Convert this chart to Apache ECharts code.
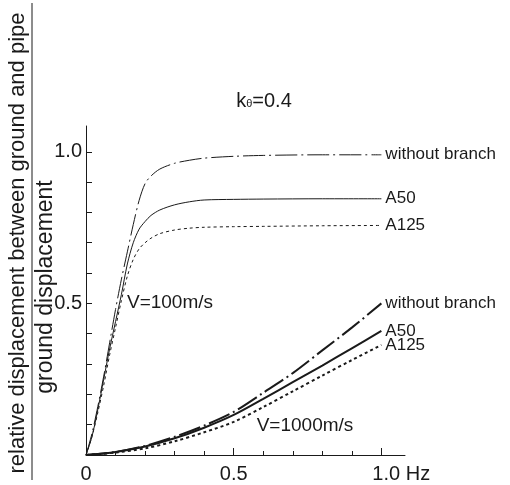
<!DOCTYPE html>
<html>
<head>
<meta charset="utf-8">
<script src="https://cdn.jsdelivr.net/npm/echarts@6/dist/echarts.min.js"></script>
<style>
  html, body { margin: 0; padding: 0; background: #fff; }
  #chart { width: 510px; height: 485px; }
</style>
</head>
<body>
<div id="chart"></div>
<script>
// frequency (Hz) for the V=100 m/s curves
var freqLow = [0, 0.02, 0.04, 0.06, 0.08, 0.10, 0.12, 0.14, 0.16, 0.18, 0.20, 0.22, 0.25, 0.30, 0.35, 0.40, 0.50, 0.60, 0.80, 1.00]
var v100NoBranch = [0, 0.07, 0.16, 0.26, 0.37, 0.48, 0.58, 0.67, 0.76, 0.84, 0.895, 0.92, 0.943, 0.962, 0.972, 0.979, 0.985, 0.988, 0.99, 0.99]
var v100A50 = [0, 0.06, 0.15, 0.25, 0.35, 0.44, 0.53, 0.63, 0.70, 0.745, 0.77, 0.79, 0.808, 0.825, 0.835, 0.841, 0.843, 0.844, 0.845, 0.845]
var v100A125 = [0, 0.06, 0.14, 0.23, 0.33, 0.42, 0.51, 0.59, 0.645, 0.68, 0.70, 0.715, 0.73, 0.742, 0.748, 0.751, 0.753, 0.754, 0.756, 0.757]

// frequency (Hz) for the V=1000 m/s curves
var freqHigh = [0, 0.1, 0.2, 0.3, 0.4, 0.5, 0.6, 0.7, 0.8, 0.9, 1.0]
var v1000NoBranch = [0, 0.01, 0.03, 0.06, 0.097, 0.142, 0.205, 0.27, 0.345, 0.42, 0.5]
var v1000A50 = [0, 0.01, 0.028, 0.055, 0.09, 0.132, 0.185, 0.24, 0.295, 0.352, 0.409]
var v1000A125 = [0, 0.008, 0.022, 0.045, 0.075, 0.109, 0.158, 0.21, 0.262, 0.313, 0.363]

var xMinorTicks = [0.1, 0.2, 0.3, 0.4, 0.6, 0.7, 0.8, 0.9]
var xMajorTicks = [0.5, 1.0]
var xLabels = [0, 0.5]
var yTicks = [0.1, 0.2, 0.3, 0.4, 0.5, 0.6, 0.7, 0.8, 0.9, 1.0]
var yLabels = [0.5, 1.0]

var ink = '#1a1a1a'
var font = 'Liberation Sans'

function pairs(xs, ys) {
  return xs.map(function (x, i) { return [x, ys[i]] })
}

function curve(name, xs, ys, type, width) {
  return {
    type: 'line',
    name: name,
    data: pairs(xs, ys),
    smooth: 0.3,
    symbol: 'none',
    silent: true,
    lineStyle: { color: ink, width: width, type: type },
    endLabel: {
      show: true,
      formatter: name,
      color: ink,
      fontFamily: font,
      fontSize: 17,
      distance: 4
    }
  }
}

var dashDot = [22, 4, 2, 4]
var dotted = [3, 3]

var chart = echarts.init(document.getElementById('chart'))
chart.setOption({
  animation: false,
  backgroundColor: '#fff',
  textStyle: { fontFamily: font },
  title: {
    text: 'k{s|θ}=0.4',
    left: 259,
    top: 86,
    textAlign: 'center',
    textStyle: {
      fontFamily: font,
      fontSize: 20,
      fontWeight: 'normal',
      color: ink,
      rich: { s: { fontSize: 11, color: ink, padding: [6, 0, 0, 0] } }
    }
  },
  grid: { left: 86, right: 105, top: 126, bottom: 30 },
  xAxis: [
    {
      type: 'value', min: 0, max: 1.08,
      splitLine: { show: false },
      axisLine: { lineStyle: { color: ink, width: 1 } },
      axisTick: { inside: true, length: 4, customValues: xMinorTicks, lineStyle: { color: ink } },
      axisLabel: {
        customValues: xLabels, color: ink, fontSize: 20, margin: 9,
        formatter: function (v) { return v === 0 ? '0' : v.toFixed(1) }
      }
    },
    {
      type: 'value', min: 0, max: 1.08, position: 'bottom',
      splitLine: { show: false },
      axisLine: { show: false },
      axisTick: { inside: true, length: 7, customValues: xMajorTicks, lineStyle: { color: ink } },
      axisLabel: {
        customValues: [1.0], color: ink, fontSize: 20, margin: 9, align: 'left',
        padding: [0, 0, 0, -9],
        formatter: function (v) { return '1.0 Hz' }
      }
    }
  ],
  yAxis: {
    type: 'value', min: 0, max: 1.085,
    splitLine: { show: false },
    axisLine: { show: true, lineStyle: { color: ink, width: 1 } },
    axisTick: { show: true, inside: true, length: 6, customValues: yTicks, lineStyle: { color: ink } },
    axisLabel: {
      customValues: yLabels, color: ink, fontSize: 20, margin: 4,
      formatter: function (v) { return v.toFixed(1) }
    }
  },
  series: [
    curve('without branch', freqLow, v100NoBranch, dashDot, 1),
    curve('A50', freqLow, v100A50, 'solid', 1),
    curve('A125', freqLow, v100A125, dotted, 1),
    curve('without branch', freqHigh, v1000NoBranch, dashDot, 2),
    curve('A50', freqHigh, v1000A50, 'solid', 2),
    curve('A125', freqHigh, v1000A125, dotted, 2)
  ],
  graphic: [
    {
      type: 'text', x: 18, y: 243, rotation: Math.PI / 2,
      style: {
        text: 'relative displacement between ground and pipe',
        font: '22px ' + font, fill: ink, align: 'center', verticalAlign: 'middle'
      }
    },
    {
      type: 'line', shape: { x1: 32, y1: 3, x2: 32, y2: 480 },
      style: { stroke: ink, lineWidth: 1 }
    },
    {
      type: 'text', x: 46, y: 287, rotation: Math.PI / 2,
      style: {
        text: 'ground displacement',
        font: '23px ' + font, fill: ink, align: 'center', verticalAlign: 'middle'
      }
    },
    {
      type: 'text', x: 170, y: 303,
      style: { text: 'V=100m/s', font: '19px ' + font, fill: ink, align: 'center', verticalAlign: 'middle' }
    },
    {
      type: 'text', x: 305, y: 426,
      style: { text: 'V=1000m/s', font: '19px ' + font, fill: ink, align: 'center', verticalAlign: 'middle' }
    }
  ]
})
</script>
</body>
</html>
